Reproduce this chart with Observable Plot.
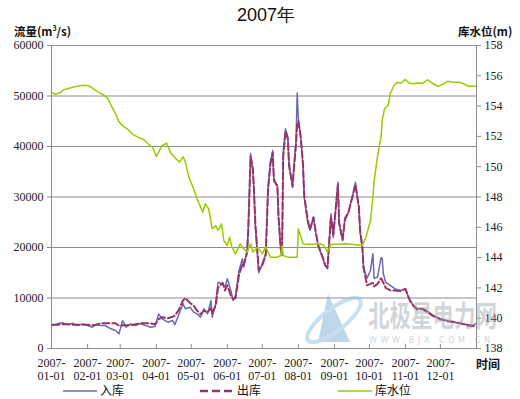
<!DOCTYPE html>
<html><head><meta charset="utf-8">
<script src="https://cdn.jsdelivr.net/npm/d3@7"></script>
<script src="https://cdn.jsdelivr.net/npm/@observablehq/plot@0.6"></script>
<style>
body{margin:0;background:#fff;}
#wrap{position:relative;width:520px;height:399px;overflow:hidden;background:#fff;}
#wrap svg{position:absolute;left:0;top:0;}
.t{position:absolute;white-space:nowrap;color:#111;}
#title{left:0;width:532px;top:3px;text-align:center;font:18px "Liberation Sans",Arial,sans-serif;}
.unit{top:23px;font:600 11.5px "Noto Sans CJK SC",sans-serif;}
#legend{position:absolute;left:0;top:381px;width:520px;height:18px;font:12px "Noto Sans CJK SC",sans-serif;}
.wm{position:absolute;color:#9aa3ad;opacity:0.45;white-space:nowrap;}
</style></head><body>
<div id="wrap">
  <div id="chart"></div>
  <svg id="logo" width="70" height="70" style="position:absolute;left:298px;top:280px;opacity:0.5">
    <polygon points="30,14 52,62 20,62" fill="#7fb0d2"/>
    <ellipse cx="36" cy="40" rx="33" ry="11" transform="rotate(-38 36 40)" fill="none" stroke="#8cc4e4" stroke-width="4"/>
  </svg>
  <div class="wm" style="left:368px;top:299px;font:bold 21.5px 'Noto Sans CJK SC',sans-serif;transform:scaleY(1.35);transform-origin:0 50%;">北极星电力网</div>
  <div class="wm" style="left:369px;top:336px;font:8px 'DejaVu Sans',sans-serif;letter-spacing:3.6px;">WWW.BJX.COM.CN</div>
  <div class="t" id="title">2007年</div>
  <div class="t unit" style="left:14px;">流量(m<sup style="font-size:7px">3</sup>/s)</div>
  <div class="t unit" style="left:458px;">库水位(m)</div>
  <div class="t" style="left:476px;top:355px;font:bold 12px 'Noto Sans CJK SC',sans-serif;">时间</div>
  <div id="legend"></div>
</div>
<script>
// ---- data ----
const flowDates = ["2007-01-02","2007-01-06","2007-01-10","2007-01-15","2007-01-19","2007-01-23","2007-01-28","2007-02-01","2007-02-05","2007-02-08","2007-02-12","2007-02-16","2007-02-21","2007-02-25","2007-02-28","2007-03-03","2007-03-06","2007-03-10","2007-03-14","2007-03-18","2007-03-23","2007-03-27","2007-03-31","2007-04-03","2007-04-06","2007-04-11","2007-04-15","2007-04-17","2007-04-20","2007-04-24","2007-04-26","2007-04-30","2007-05-03","2007-05-06","2007-05-09","2007-05-12","2007-05-15","2007-05-18","2007-05-19","2007-05-22","2007-05-24","2007-05-28","2007-05-30","2007-06-01","2007-06-04","2007-06-06","2007-06-08","2007-06-11","2007-06-14","2007-06-15","2007-06-18","2007-06-19","2007-06-21","2007-06-23","2007-06-24","2007-06-25","2007-06-28","2007-07-01","2007-07-04","2007-07-05","2007-07-06","2007-07-08","2007-07-10","2007-07-11","2007-07-12","2007-07-14","2007-07-15","2007-07-17","2007-07-18","2007-07-19","2007-07-21","2007-07-23","2007-07-24","2007-07-27","2007-07-28","2007-07-30","2007-07-31","2007-08-01","2007-08-03","2007-08-05","2007-08-06","2007-08-09","2007-08-11","2007-08-14","2007-08-16","2007-08-18","2007-08-22","2007-08-24","2007-08-26","2007-08-29","2007-08-31","2007-09-04","2007-09-05","2007-09-08","2007-09-10","2007-09-13","2007-09-17","2007-09-19","2007-09-22","2007-09-23","2007-09-25","2007-09-26","2007-09-29","2007-10-02","2007-10-04","2007-10-05","2007-10-08","2007-10-11","2007-10-12","2007-10-13","2007-10-15","2007-10-19","2007-10-23","2007-10-28","2007-11-01","2007-11-03","2007-11-05","2007-11-08","2007-11-11","2007-11-16","2007-11-21","2007-11-25","2007-12-01","2007-12-07","2007-12-12","2007-12-18","2007-12-24","2007-12-29","2007-12-31"];
const inflow = [4550,4880,5080,4750,5010,4550,4880,4550,4220,4680,4550,4550,3900,3560,2900,5540,4220,4880,4550,4880,4550,4220,4350,6860,5870,5210,5540,4750,6530,8850,7860,8180,7190,6860,6200,7860,6860,9500,6200,8850,13130,12800,12140,13800,11480,9500,10490,15440,17760,16100,19400,24000,38600,34900,30300,24400,15000,16800,18800,25700,32000,37000,39200,33000,33000,32300,25700,19000,18400,38800,43500,41800,36000,32300,35600,41200,50600,45500,41800,36000,29900,25000,23500,26000,22800,20400,17800,16500,15800,26700,22000,32900,24700,21400,25900,26900,30700,32900,27900,23000,20000,16000,13900,15500,18800,13900,14100,18000,17800,14800,13100,12500,11800,11500,11800,10500,9500,8500,7900,7900,7200,6500,5900,5500,5200,5000,4750,4550,4880];
const outflow = [4700,4700,4800,4800,4700,4700,4700,4700,4600,4700,5000,5000,5000,5000,4500,4600,4600,4600,4800,5000,5000,5000,4800,5800,6200,6000,6300,6500,7500,9500,10000,9000,8500,7500,6800,7500,7200,8000,7000,8500,12000,13000,11500,12500,10500,9800,10000,14500,16800,16500,19000,23500,38000,35500,31000,25000,15500,16500,18500,25000,31500,36500,38800,33500,33000,32000,26000,19500,18800,38000,43000,41500,36500,32000,35000,40500,44500,45000,42000,36500,30500,25500,23500,26000,23000,20500,18000,16500,16000,26000,22500,32500,25000,21500,25500,27000,30500,32500,28000,23500,20000,16000,12500,12800,13000,12300,12800,13900,13500,13000,12000,11500,11500,11400,11800,10500,9400,8400,7700,7800,7000,6400,5800,5400,5300,5000,4600,4400,4700];
const levelDates = ["2007-01-02","2007-01-04","2007-01-09","2007-01-11","2007-01-17","2007-01-23","2007-01-28","2007-02-02","2007-02-05","2007-02-10","2007-02-14","2007-02-18","2007-02-22","2007-02-25","2007-02-28","2007-03-04","2007-03-07","2007-03-12","2007-03-16","2007-03-21","2007-03-25","2007-03-29","2007-04-01","2007-04-06","2007-04-10","2007-04-13","2007-04-17","2007-04-21","2007-04-24","2007-04-26","2007-04-29","2007-05-03","2007-05-06","2007-05-11","2007-05-13","2007-05-16","2007-05-19","2007-05-22","2007-05-24","2007-05-27","2007-05-29","2007-06-01","2007-06-03","2007-06-05","2007-06-08","2007-06-12","2007-06-15","2007-06-18","2007-06-21","2007-06-23","2007-06-27","2007-07-01","2007-07-04","2007-07-08","2007-07-14","2007-07-17","2007-07-18","2007-07-19","2007-07-23","2007-07-31","2007-08-01","2007-08-05","2007-08-09","2007-08-20","2007-08-23","2007-08-26","2007-08-29","2007-09-12","2007-09-25","2007-09-28","2007-09-30","2007-10-02","2007-10-04","2007-10-05","2007-10-08","2007-10-11","2007-10-12","2007-10-14","2007-10-17","2007-10-19","2007-10-22","2007-10-25","2007-10-28","2007-11-01","2007-11-04","2007-11-08","2007-11-12","2007-11-16","2007-11-20","2007-11-24","2007-11-29","2007-12-04","2007-12-07","2007-12-12","2007-12-17","2007-12-21","2007-12-25","2007-12-29","2007-12-31"];
const level = [154.9,154.77,154.9,155.07,155.2,155.31,155.38,155.34,155.2,154.92,154.77,154.55,153.93,153.49,152.94,152.65,152.5,152.13,151.95,151.8,151.51,151.25,150.67,151.4,151.55,150.96,150.59,150.3,150.67,150.3,149.3,148.54,147.88,147.0,147.55,147.22,145.9,146.12,145.79,146.23,145.13,144.8,145.35,144.69,144.25,144.91,144.58,144.36,144.91,144.36,144.69,144.25,144.69,144.03,144.03,144.14,144.8,144.14,144.03,144.03,145.9,144.91,144.86,144.91,144.8,144.36,144.86,144.91,144.8,145.35,145.9,146.45,148.0,149.0,150.7,152.0,153.05,153.82,154.04,154.81,155.36,155.58,155.51,155.76,155.53,155.47,155.53,155.51,155.74,155.51,155.31,155.47,155.64,155.58,155.58,155.47,155.31,155.31,155.31];
const monthTicks = ["2007-01-01","2007-02-01","2007-03-01","2007-04-01","2007-05-01","2007-06-01","2007-07-01","2007-08-01","2007-09-01","2007-10-01","2007-11-01","2007-12-01"];
const monthLabels = ["2007-\n01-01","2007-\n02-01","2007-\n03-01","2007-\n04-01","2007-\n05-01","2007-\n06-01","2007-\n07-01","2007-\n08-01","2007-\n09-01","2007-\n10-01","2007-\n11-01","2007-\n12-01"];
const flowTicks = [0,10000,20000,30000,40000,50000,60000];
const levelTicks = [138,140,142,144,146,148,150,152,154,156,158];
const seriesNames = ["入库","出库","库水位"];
const seriesColors = ["#6b6bb0","#993366","#99cc00"];

// ---- build ----
const flowRows = flowDates.map((d,i)=>({date:new Date(d), inflow:inflow[i], outflow:outflow[i]}));
const levelRows = levelDates.map((d,i)=>({date:new Date(d), level:level[i]}));
const lvToFlow = v => (v - levelTicks[0]) * (flowTicks[flowTicks.length-1] / (levelTicks[levelTicks.length-1]-levelTicks[0]));
const monthDates = monthTicks.map(d=>new Date(d));

const chart = Plot.plot({
  width: 520, height: 399,
  marginLeft: 51, marginRight: 44, marginTop: 45, marginBottom: 51,
  style: {fontFamily: '"Liberation Serif",serif', fontSize: "12px", color: "#222", background: "transparent", overflow: "visible"},
  x: {type: "utc", domain: [new Date("2007-01-01"), new Date("2008-01-01")]},
  y: {domain: [0, 60000]},
  marks: [
    Plot.gridY(flowTicks, {stroke: "#8c8c8c", strokeOpacity: 1}),
    Plot.frame({stroke: "#8c8c8c"}),
    Plot.axisY(flowTicks, {anchor: "left", tickSize: 4, tickPadding: 4, stroke: "#8c8c8c", tickFormat: d => String(d), fill: "#222"}),
    Plot.axisY(levelTicks.map(lvToFlow), {anchor: "right", tickSize: 4, tickPadding: 4, stroke: "#8c8c8c", fill: "#222", tickFormat: (d,i) => String(levelTicks[i])}),
    Plot.axisX(monthDates, {anchor: "bottom", tickSize: 0, tickPadding: 10, fill: "#222", lineHeight: 1.05, tickFormat: (d,i) => monthLabels[i]}),
    Plot.tickX(monthDates, {x: d => d, stroke: "#8c8c8c", insetTop: 299}),
    Plot.line(flowRows, {x: "date", y: "inflow", stroke: seriesColors[0], strokeWidth: 1.5}),
    Plot.line(flowRows, {x: "date", y: "outflow", stroke: seriesColors[1], strokeWidth: 2, strokeDasharray: "7,3"}),
    Plot.line(levelRows, {x: "date", y: d => lvToFlow(d.level), stroke: seriesColors[2], strokeWidth: 1.5})
  ]
});
document.getElementById("chart").appendChild(chart);

// legend
const lg = document.getElementById("legend");
const lgX = [63, 200, 338];
const dashes = [null, "8,4", null];
seriesNames.forEach((n,i)=>{
  const s = document.createElementNS("http://www.w3.org/2000/svg","svg");
  s.setAttribute("width","34"); s.setAttribute("height","10");
  s.style.cssText = `position:absolute;left:${lgX[i]}px;top:5px;`;
  const l = document.createElementNS("http://www.w3.org/2000/svg","line");
  l.setAttribute("x1","0"); l.setAttribute("x2","34"); l.setAttribute("y1","5"); l.setAttribute("y2","5");
  l.setAttribute("stroke", seriesColors[i]); l.setAttribute("stroke-width", i===1? "2.5":"1.5");
  if (dashes[i]) l.setAttribute("stroke-dasharray", dashes[i]);
  s.appendChild(l); lg.appendChild(s);
  const t = document.createElement("div");
  t.className = "t"; t.textContent = n;
  t.style.cssText = `left:${lgX[i]+37}px;top:0px;`;
  lg.appendChild(t);
});
</script>
</body></html>
